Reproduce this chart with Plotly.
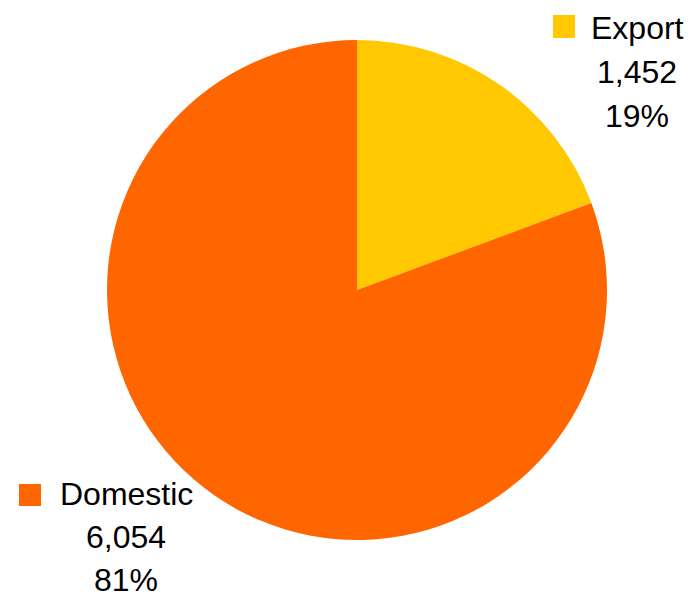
import plotly.graph_objects as go

# Sales split by market
categories = ["Export", "Domestic"]
values = [1452, 6054]
colors = ["#FFC800", "#FF6600"]

W, H = 691, 598
total = sum(values)

fig = go.Figure(
    go.Pie(
        labels=categories,
        values=values,
        marker=dict(colors=colors, line=dict(width=0)),
        sort=False,
        direction="clockwise",
        rotation=0,
        textinfo="none",
        hoverinfo="label+value+percent",
        domain=dict(x=[107 / W, 607 / W], y=[1 - 540 / H, 1 - 40 / H]),
        showlegend=False,
    )
)

# Label blocks: (text centre x, first line centre y, line gap, legend key box) in pixels
label_layout = {
    "Export": dict(cx=637, y0=28, gap=44, key=(553, 15, 575, 38)),
    "Domestic": dict(cx=126, y0=494, gap=43, key=(19, 484, 41, 506)),
}

annotations = []
shapes = []
for cat, val, col in zip(categories, values, colors):
    lay = label_layout[cat]
    lines = [cat, f"{val:,}", f"{round(100 * val / total)}%"]
    for i, txt in enumerate(lines):
        annotations.append(
            dict(
                text=txt,
                x=lay["cx"] / W,
                y=1 - (lay["y0"] + i * lay["gap"]) / H,
                xref="paper",
                yref="paper",
                xanchor="center",
                yanchor="middle",
                showarrow=False,
                borderpad=0,
                font=dict(family="Liberation Sans, Arial, sans-serif", size=32, color="#000000"),
            )
        )
    x0, y0, x1, y1 = lay["key"]
    shapes.append(
        dict(
            type="rect",
            xref="paper",
            yref="paper",
            x0=x0 / W,
            x1=x1 / W,
            y0=1 - y1 / H,
            y1=1 - y0 / H,
            fillcolor=col,
            line=dict(width=0),
        )
    )

fig.update_layout(
    width=W,
    height=H,
    margin=dict(l=0, r=0, t=0, b=0),
    paper_bgcolor="white",
    plot_bgcolor="white",
    annotations=annotations,
    shapes=shapes,
)

fig.write_html("out.html")
